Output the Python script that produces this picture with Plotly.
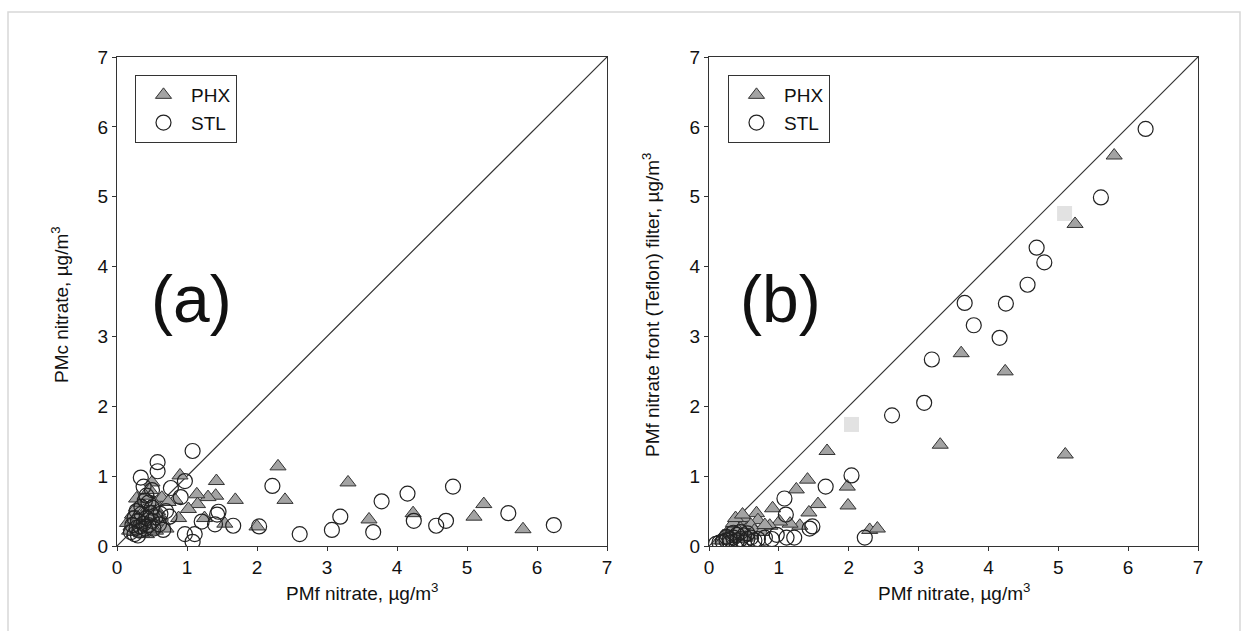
import plotly.graph_objects as go

# ---------------- data ----------------
# Panel (a): PMf nitrate (x) vs PMc nitrate (y)
a_phx_x = [2.30, 3.30, 1.42, 0.90, 2.40, 1.69, 1.41, 1.30, 1.14, 1.15, 1.02, 5.24, 5.10, 4.23, 3.60, 5.80,
           2.00, 0.88, 1.25, 1.54, 0.64, 0.83, 0.73, 0.50, 0.47, 0.42,
           0.15, 0.20, 0.22, 0.25, 0.28, 0.30, 0.32, 0.34, 0.36, 0.38, 0.40, 0.42, 0.45, 0.48, 0.50, 0.52,
           0.55, 0.58, 0.60, 0.62, 0.28, 0.40, 0.25, 0.35, 0.55, 0.18, 0.50, 0.45, 0.65, 0.70]
a_phx_y = [1.14, 0.91, 0.93, 1.01, 0.66, 0.66, 0.72, 0.70, 0.74, 0.60, 0.53, 0.60, 0.42, 0.47, 0.38, 0.24,
           0.28, 0.40, 0.40, 0.32, 0.69, 0.66, 0.63, 0.91, 0.80, 0.17,
           0.33, 0.28, 0.45, 0.38, 0.55, 0.25, 0.42, 0.62, 0.30, 0.50, 0.22, 0.38, 0.55, 0.30, 0.45, 0.63,
           0.35, 0.50, 0.28, 0.42, 0.68, 0.72, 0.20, 0.18, 0.22, 0.22, 0.25, 0.43, 0.35, 0.25]

a_stl_x = [1.08, 0.58, 0.58, 0.34, 0.97, 0.77, 0.91, 2.22, 4.80, 4.15, 3.78, 3.19, 3.07, 2.61, 3.66, 4.24,
           4.56, 4.70, 5.59, 6.24, 2.03, 1.45, 1.43, 1.40, 1.66, 1.21, 0.97, 1.11, 1.08, 0.66, 0.38, 0.42,
           0.50,
           0.20, 0.22, 0.25, 0.28, 0.30, 0.32, 0.35, 0.38, 0.40, 0.42, 0.45, 0.48, 0.50, 0.52, 0.55, 0.60,
           0.35, 0.45, 0.30, 0.25, 0.40, 0.50, 0.62, 0.70, 0.75, 0.28, 0.33]
a_stl_y = [1.36, 1.20, 1.07, 0.98, 0.93, 0.83, 0.70, 0.86, 0.85, 0.75, 0.64, 0.42, 0.23, 0.17, 0.20, 0.36,
           0.29, 0.36, 0.47, 0.30, 0.28, 0.49, 0.45, 0.31, 0.29, 0.35, 0.17, 0.17, 0.06, 0.23, 0.85, 0.72,
           0.80,
           0.20, 0.30, 0.17, 0.26, 0.36, 0.22, 0.46, 0.32, 0.25, 0.40, 0.30, 0.47, 0.36, 0.25, 0.41, 0.31,
           0.56, 0.62, 0.15, 0.40, 0.65, 0.55, 0.46, 0.50, 0.42, 0.50, 0.28]

# Panel (b): PMf nitrate (x) vs PMf nitrate front (Teflon) filter (y)
b_phx_x = [5.80, 5.24, 3.61, 4.24, 3.31, 5.10, 1.69, 1.98, 1.99, 1.41, 1.25, 1.56, 0.91, 1.43, 0.68, 2.30,
           2.41, 1.30, 1.16, 1.01, 0.87, 0.70,
           0.15, 0.20, 0.25, 0.30, 0.35, 0.40, 0.45, 0.50, 0.30, 0.40, 0.50, 0.55, 0.60, 0.35, 0.45, 0.25,
           0.60, 0.52, 0.42, 0.20, 0.38, 0.48, 0.65, 0.75, 0.80]
b_phx_y = [5.59, 4.61, 2.76, 2.50, 1.45, 1.31, 1.36, 0.85, 0.58, 0.95, 0.81, 0.60, 0.54, 0.48, 0.47, 0.23,
           0.25, 0.29, 0.32, 0.35, 0.29, 0.37,
           0.08, 0.14, 0.18, 0.22, 0.27, 0.32, 0.36, 0.40, 0.10, 0.15, 0.20, 0.26, 0.30, 0.33, 0.25, 0.12,
           0.15, 0.12, 0.22, 0.08, 0.40, 0.45, 0.22, 0.20, 0.30]

b_stl_x = [6.25, 5.61, 4.69, 4.80, 4.56, 3.66, 4.25, 3.79, 4.16, 3.19, 3.08, 2.62, 2.04, 1.67, 1.08, 1.10,
           2.23, 1.44, 1.48, 1.22, 1.11, 0.97,
           0.10, 0.15, 0.20, 0.25, 0.30, 0.35, 0.40, 0.45, 0.50, 0.55, 0.60, 0.30, 0.40, 0.50, 0.65, 0.70,
           0.80, 0.90, 0.25, 0.35, 0.45, 0.55]
b_stl_y = [5.97, 4.99, 4.27, 4.06, 3.74, 3.48, 3.47, 3.16, 2.98, 2.67, 2.05, 1.87, 1.01, 0.85, 0.68, 0.45,
           0.12, 0.25, 0.28, 0.12, 0.12, 0.16,
           0.03, 0.05, 0.06, 0.08, 0.10, 0.12, 0.08, 0.10, 0.05, 0.10, 0.12, 0.05, 0.16, 0.15, 0.08, 0.10,
           0.12, 0.10, 0.13, 0.19, 0.20, 0.18]

# faint grey square artefacts visible in panel (b)
b_ghost_x = [5.09, 2.04]
b_ghost_y = [4.76, 1.74]

tick_vals = [0, 1, 2, 3, 4, 5, 6, 7]
diag = [0, 7]

x_title = "PMf nitrate, \u00b5g/m<sup>3</sup>"
ya_title = "PMc nitrate, \u00b5g/m<sup>3</sup>"
yb_title = "PMf nitrate front (Teflon) filter, \u00b5g/m<sup>3</sup>"

# ---------------- figure ----------------
W, H = 1245, 631
L, R, T, B = 117, 47, 57, 85
pw = W - L - R
ph = H - T - B
dom_a = [0, (607 - L) / pw]
dom_b = [(709 - L) / pw, 1]


def px_x(px):
    return (px - L) / pw


def px_y(py):
    return (H - B - py) / ph


tri_marker = dict(symbol="triangle-up", size=14, color="#a3a3a3",
                  line=dict(color="#333333", width=1))
circ_marker = dict(symbol="circle-open", size=15, color="#222222",
                   line=dict(color="#222222", width=1.2))

fig = go.Figure()

for xref, yref, leg, px_, py_, sx_, sy_ in [
    ("x", "y", "legend", a_phx_x, a_phx_y, a_stl_x, a_stl_y),
    ("x2", "y2", "legend2", b_phx_x, b_phx_y, b_stl_x, b_stl_y),
]:
    fig.add_trace(go.Scatter(x=diag, y=diag, mode="lines", xaxis=xref, yaxis=yref,
                             line=dict(color="#333333", width=1.2), showlegend=False,
                             hoverinfo="skip"))
    if xref == "x2":
        fig.add_trace(go.Scatter(x=b_ghost_x, y=b_ghost_y, mode="markers", xaxis=xref, yaxis=yref,
                                 marker=dict(symbol="square", size=15, color="#e2e2e2"),
                                 showlegend=False, hoverinfo="skip"))
    fig.add_trace(go.Scatter(x=px_, y=py_, mode="markers", name="PHX", xaxis=xref, yaxis=yref,
                             marker=tri_marker, legend=leg))
    fig.add_trace(go.Scatter(x=sx_, y=sy_, mode="markers", name="STL", xaxis=xref, yaxis=yref,
                             marker=circ_marker, legend=leg))

font = "Liberation Sans"
FS = 19
ax_common = dict(range=[0, 7], tickvals=tick_vals, ticks="outside", ticklen=4,
                 tickcolor="#333", showline=True, linecolor="#333", linewidth=1,
                 mirror=True, showgrid=False, zeroline=False,
                 tickfont=dict(family=font, size=FS, color="#111"))

legend_common = dict(xanchor="left", yanchor="top", bordercolor="#333", borderwidth=1,
                     bgcolor="white", font=dict(family=font, size=FS, color="#111"),
                     itemwidth=45, tracegroupgap=0, itemsizing="trace")

fig.update_layout(
    width=W, height=H,
    margin=dict(l=L, r=R, t=T, b=B),
    paper_bgcolor="white", plot_bgcolor="white",
    xaxis=dict(domain=dom_a, anchor="y", **ax_common),
    yaxis=dict(domain=[0, 1], anchor="x", **ax_common),
    xaxis2=dict(domain=dom_b, anchor="y2", **ax_common),
    yaxis2=dict(domain=[0, 1], anchor="x2", **ax_common),
    legend=dict(x=px_x(135), y=px_y(75), **legend_common),
    legend2=dict(x=px_x(728), y=px_y(75), **legend_common),
    showlegend=True,
)

title_font = dict(family=font, size=FS, color="#111")
# axis titles
for cx in [(117 + 607) / 2, (709 + 1198) / 2]:
    fig.add_annotation(text=x_title, xref="paper", yref="paper", x=px_x(cx), y=px_y(578),
                       xanchor="center", yanchor="top", showarrow=False, font=title_font)
fig.add_annotation(text=ya_title, xref="paper", yref="paper", x=px_x(60), y=px_y(305),
                   xanchor="center", yanchor="middle", textangle=-90, showarrow=False,
                   font=title_font)
fig.add_annotation(text=yb_title, xref="paper", yref="paper", x=px_x(651), y=px_y(305),
                   xanchor="center", yanchor="middle", textangle=-90, showarrow=False,
                   font=title_font)

# panel letters
fig.add_annotation(text="(a)", xref="x", yref="y", x=0.45, y=3.53, xanchor="left", yanchor="middle",
                   showarrow=False, font=dict(family=font, size=66, color="#111"))
fig.add_annotation(text="(b)", xref="x2", yref="y2", x=0.42, y=3.53, xanchor="left", yanchor="middle",
                   showarrow=False, font=dict(family=font, size=66, color="#111"))

# faint outer frame of the scanned figure
fig.add_shape(type="rect", xref="paper", yref="paper",
              x0=px_x(8), x1=px_x(1240), y0=px_y(640), y1=px_y(12),
              line=dict(color="#d8d8d8", width=1.5), fillcolor="rgba(0,0,0,0)", layer="below")

fig.write_html("out.html")
